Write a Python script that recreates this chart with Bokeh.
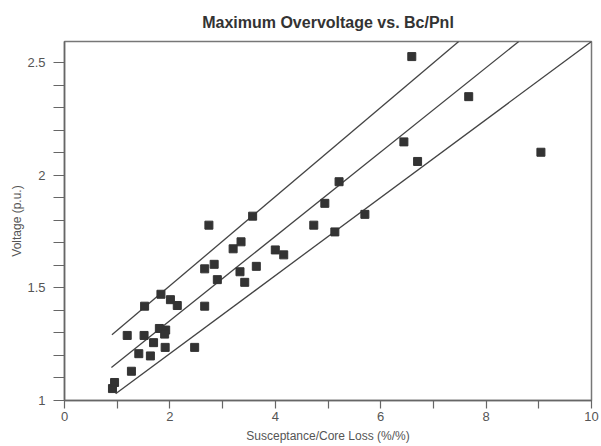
from bokeh.plotting import figure
from bokeh.models import Range1d, FixedTicker
from bokeh.embed import file_html
from bokeh.resources import INLINE

# Measured data points (Susceptance/Core Loss, Voltage p.u.)
bc_pnl = [0.91, 0.95, 1.27, 1.19, 1.41, 1.51, 1.69, 1.63, 1.52, 1.83,
          2.01, 2.14, 1.80, 1.92, 1.90, 1.91, 2.47, 2.66, 2.66, 2.84,
          2.90, 3.20, 3.35, 3.33, 3.42, 3.64, 4.00, 4.16, 2.74, 3.57,
          4.73, 4.94, 5.21, 5.13, 5.70, 6.44, 6.70, 6.59, 7.67, 9.04]
voltage = [1.053, 1.08, 1.13, 1.289, 1.208, 1.289, 1.257, 1.198, 1.419, 1.472,
           1.448, 1.422, 1.32, 1.313, 1.295, 1.236, 1.236, 1.419, 1.585, 1.605,
           1.537, 1.674, 1.705, 1.572, 1.525, 1.596, 1.669, 1.647, 1.779, 1.819,
           1.779, 1.876, 1.972, 1.749, 1.827, 2.149, 2.062, 2.528, 2.35, 2.103]

# Envelope lines (upper, middle, lower)
upper_x = [0.90, 7.48]
upper_y = [1.292, 2.595]
middle_x = [0.89, 8.62]
middle_y = [1.147, 2.595]
lower_x = [0.97, 10.0]
lower_y = [1.03, 2.595]

x_major = [0, 2, 4, 6, 8, 10]
x_minor = [1, 3, 5, 7, 9]
y_major = [1, 1.5, 2, 2.5]
y_major_labels = ["1", "1.5", "2", "2.5"]
y_minor = [1.1, 1.2, 1.3, 1.4, 1.6, 1.7, 1.8, 1.9, 2.1, 2.2, 2.3, 2.4]

FONT = "Liberation Sans"

p = figure(width=600, height=445, output_backend="svg", toolbar_location=None,
           x_range=Range1d(0, 10), y_range=Range1d(1, 2.595),
           title="Maximum Overvoltage vs. Bc/Pnl",
           x_axis_label="Susceptance/Core Loss (%/%)",
           y_axis_label="Voltage (p.u.)",
           min_border_left=64, min_border_right=9, min_border_top=41,
           min_border_bottom=45)

p.grid.visible = False
p.background_fill_color = "white"
p.border_fill_color = "white"
p.outline_line_color = "#777777"
p.outline_line_width = 1.5

p.title.text_font = FONT
p.title.text_font_size = "16px"
p.title.text_font_style = "bold"
p.title.text_color = "#333333"
p.title.align = "center"
p.title.standoff = 21

for ax in (p.xaxis[0], p.yaxis[0]):
    ax.axis_line_color = "#666666"
    ax.axis_line_width = 1.5
    ax.major_tick_line_color = "#666666"
    ax.minor_tick_line_color = "#666666"
    ax.major_tick_line_width = 1.2
    ax.minor_tick_line_width = 1.2
    ax.major_tick_in = 0
    ax.minor_tick_in = 0
    ax.major_label_text_font = FONT
    ax.major_label_text_font_size = "13px"
    ax.major_label_text_color = "#555555"
    ax.axis_label_text_font = FONT
    ax.axis_label_text_font_size = "12px"
    ax.axis_label_text_font_style = "normal"
    ax.axis_label_text_color = "#555555"

p.xaxis.ticker = FixedTicker(ticks=x_major, minor_ticks=x_minor)
p.xaxis.major_tick_out = 8
p.xaxis.minor_tick_out = 8
p.xaxis.major_label_standoff = 3
p.xaxis.axis_label_standoff = 5

p.yaxis.ticker = FixedTicker(ticks=y_major, minor_ticks=y_minor)
p.yaxis.major_label_overrides = {v: s for v, s in zip(y_major, y_major_labels)}
p.yaxis.major_tick_out = 11
p.yaxis.minor_tick_out = 11
p.yaxis.major_label_standoff = 8
p.yaxis.axis_label_standoff = 0

for xs, ys in ((upper_x, upper_y), (middle_x, middle_y), (lower_x, lower_y)):
    p.line(xs, ys, line_color="#444444", line_width=1.3)

p.scatter(bc_pnl, voltage, marker="square", size=8,
          fill_color="#333333", line_color="#333333")

open("out.html", "w").write(file_html(p, INLINE))
